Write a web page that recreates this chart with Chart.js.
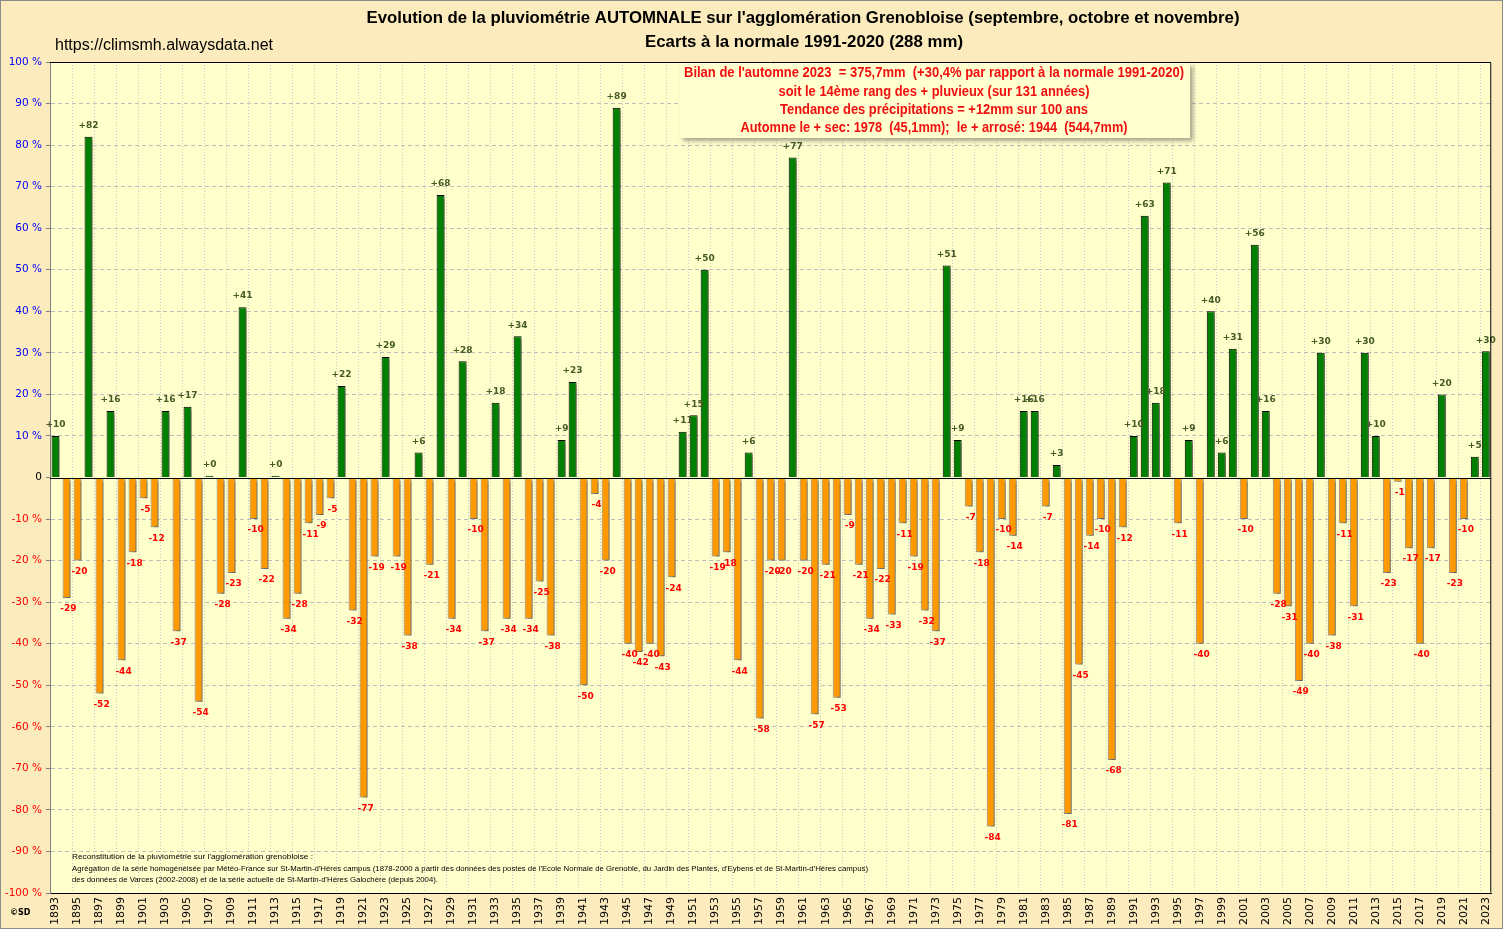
<!DOCTYPE html>
<html>
<head>
<meta charset="utf-8">
<script src="https://cdn.jsdelivr.net/npm/chart.js@4.4.0/dist/chart.umd.min.js"></script>
<style>
  body { margin: 0; background: #fcebbd; }
  canvas { display: block; }
</style>
</head>
<body>
<canvas id="pluvio" width="1503" height="929"></canvas>
<script>
// annees de la serie
var annees = [
  '1893','1894','1895','1896','1897','1898','1899','1900','1901','1902',
  '1903','1904','1905','1906','1907','1908','1909','1910','1911','1912',
  '1913','1914','1915','1916','1917','1918','1919','1920','1921','1922',
  '1923','1924','1925','1926','1927','1928','1929','1930','1931','1932',
  '1933','1934','1935','1936','1937','1938','1939','1940','1941','1942',
  '1943','1944','1945','1946','1947','1948','1949','1950','1951','1952',
  '1953','1954','1955','1956','1957','1958','1959','1960','1961','1962',
  '1963','1964','1965','1966','1967','1968','1969','1970','1971','1972',
  '1973','1974','1975','1976','1977','1978','1979','1980','1981','1982',
  '1983','1984','1985','1986','1987','1988','1989','1990','1991','1992',
  '1993','1994','1995','1996','1997','1998','1999','2000','2001','2002',
  '2003','2004','2005','2006','2007','2008','2009','2010','2011','2012',
  '2013','2014','2015','2016','2017','2018','2019','2020','2021','2022',
  '2023'
]

// ecarts a la normale 1991-2020 (%)
var ecarts = [
  10, -29, -20, 82, -52, 16, -44, -18, -5, -12,
  16, -37, 17, -54, 0.4, -28, -23, 41, -10, -22,
  0.4, -34, -28, -11, -9, -5, 22, -32, -77, -19,
  29, -19, -38, 6, -21, 68, -34, 28, -10, -37,
  18, -34, 34, -34, -25, -38, 9, 23, -50, -4,
  -20, 89, -40, -42, -40, -43, -24, 11, 15, 50,
  -19, -18, -44, 6, -58, -20, -20, 77, -20, -57,
  -21, -53, -9, -21, -34, -22, -33, -11, -19, -32,
  -37, 51, 9, -7, -18, -84, -10, -14, 16, 16,
  -7, 3, -81, -45, -14, -10, -68, -12, 10, 63,
  18, 71, -11, 9, -40, 40, 6, 31, -10, 56,
  16, -28, -31, -49, -40, 30, -38, -11, -31, 30,
  10, -23, -1, -17, -40, -17, 20, -23, -10, 5,
  30.4
]

var titre = [
  "Evolution de la pluviométrie AUTOMNALE sur l'agglomération Grenobloise (septembre, octobre et novembre)",
  'Ecarts à la normale 1991-2020 (288 mm)'
]
var bilan = [
  "Bilan de l'automne 2023  = 375,7mm  (+30,4% par rapport à la normale 1991-2020)",
  'soit le 14ème rang des + pluvieux (sur 131 années)',
  'Tendance des précipitations = +12mm sur 100 ans',
  'Automne le + sec: 1978  (45,1mm);  le + arrosé: 1944  (544,7mm)'
]
var notes = [
  "Reconstitution de la pluviométrie sur l'agglomération grenobloise :",
  "Agrégation de la série homogénéisée par Météo-France sur St-Martin-d'Hères campus (1878-2000 à partir des données des postes de l'Ecole Normale de Grenoble, du Jardin des Plantes, d'Eybens et de St-Martin-d'Hères campus)",
  "des données de Varces (2002-2008) et de la série actuelle de St-Martin-d'Hères Galochère (depuis 2004)."
]

// draws text squeezed/stretched to a given width
function texteAjuste(ctx, txt, x, y, largeur, align) {
  var w = ctx.measureText(txt).width
  ctx.save()
  ctx.translate(x, y)
  ctx.scale(largeur / w, 1)
  ctx.textAlign = align
  ctx.fillText(txt, 0, 0)
  ctx.restore()
}

var decor = {
  id: 'decor',
  beforeDraw: function(chart) {
    var ctx = chart.ctx, a = chart.chartArea
    ctx.save()
    ctx.fillStyle = '#fcebbd'
    ctx.fillRect(0, 0, chart.width, chart.height)
    ctx.fillStyle = '#ffffcc'
    ctx.fillRect(a.left, a.top, a.right - a.left, a.bottom - a.top)
    ctx.strokeStyle = '#8c8c8c'
    ctx.lineWidth = 1
    ctx.strokeRect(0.5, 0.5, chart.width - 1, chart.height - 1)
    ctx.restore()
  },
  beforeDatasetsDraw: function(chart) {
    var ctx = chart.ctx
    ctx.save()
    ctx.shadowColor = 'rgba(60,60,60,0.6)'
    ctx.shadowOffsetX = 3
    ctx.shadowOffsetY = 3
    ctx.shadowBlur = 3
  },
  afterDatasetsDraw: function(chart) {
    var ctx = chart.ctx, a = chart.chartArea
    ctx.restore()
    ctx.save()
    // ligne du zero
    var y0 = Math.round(chart.scales.y.getPixelForValue(0)) + 0.5
    ctx.strokeStyle = '#000'
    ctx.lineWidth = 1
    ctx.beginPath()
    ctx.moveTo(a.left, y0)
    ctx.lineTo(a.right, y0)
    ctx.stroke()
    // etiquettes des barres
    ctx.font = 'bold 9px "DejaVu Sans"'
    ctx.textAlign = 'center'
    ctx.textBaseline = 'middle'
    chart.getDatasetMeta(0).data.forEach(function(bar, i) {
      var v = ecarts[i]
      var r = Math.round(v)
      if (v >= 0) {
        ctx.fillStyle = '#465a26'
        ctx.fillText('+' + r, bar.x, bar.y - 11)
      } else {
        ctx.fillStyle = '#ff0000'
        ctx.fillText(String(r), bar.x + 2, bar.y + 11)
      }
    })
    ctx.restore()
  },
  afterDraw: function(chart) {
    var ctx = chart.ctx, a = chart.chartArea
    ctx.save()
    // cadre du graphique
    ctx.strokeStyle = '#000'
    ctx.lineWidth = 1
    ctx.beginPath()
    ctx.moveTo(a.left, a.top + 0.5)
    ctx.lineTo(a.right - 0.5, a.top + 0.5)
    ctx.lineTo(a.right - 0.5, a.bottom - 0.5)
    ctx.stroke()

    // titres
    ctx.fillStyle = '#000'
    ctx.textBaseline = 'middle'
    ctx.font = 'bold 17px "Liberation Sans"'
    texteAjuste(ctx, titre[0], 803, 18, 873, 'center')
    texteAjuste(ctx, titre[1], 804, 42, 318, 'center')
    ctx.font = '16px "Liberation Sans"'
    texteAjuste(ctx, 'https://climsmh.alwaysdata.net', 55, 46, 218, 'left')

    // encadre bilan
    ctx.save()
    ctx.shadowColor = 'rgba(80,80,80,0.5)'
    ctx.shadowOffsetX = 3
    ctx.shadowOffsetY = 3
    ctx.shadowBlur = 4
    ctx.fillStyle = '#ffffd0'
    ctx.fillRect(680, 63, 510, 75)
    ctx.restore()
    ctx.fillStyle = '#f01010'
    ctx.font = 'bold 14px "Liberation Sans"'
    var lignes = [[73, 500], [92, 311], [110, 308], [128, 387]]
    bilan.forEach(function(t, i) {
      texteAjuste(ctx, t, 934, lignes[i][0], lignes[i][1], 'center')
    })

    // notes de bas de graphique
    ctx.fillStyle = '#000'
    ctx.font = '8px "Liberation Sans"'
    var notesPos = [[857, 241], [869, 796], [880, 366]]
    notes.forEach(function(t, i) {
      texteAjuste(ctx, t, 72, notesPos[i][0], notesPos[i][1], 'left')
    })
    ctx.font = 'bold 8px "DejaVu Sans"'
    ctx.textAlign = 'left'
    ctx.fillText('\u00a9SD', 10, 913)
    ctx.restore()
  }
}

new Chart(document.querySelector('#pluvio'), {
  type: 'bar',
  data: {
    labels: annees,
    datasets: [{
      data: ecarts,
      backgroundColor: function(c) { return ecarts[c.dataIndex] >= 0 ? '#008000' : '#ff9900' },
      borderColor: function(c) { return ecarts[c.dataIndex] >= 0 ? '#000000' : '#8a8a8a' },
      borderWidth: 1,
      barPercentage: 0.72,
      categoryPercentage: 1
    }]
  },
  options: {
    responsive: false,
    devicePixelRatio: 1,
    animation: false,
    layout: { padding: { top: 62, right: 9, bottom: 0, left: 0 } },
    plugins: {
      legend: { display: false },
      tooltip: { enabled: false }
    },
    scales: {
      x: {
        afterFit: function(s) { s.height = 36 },
        grid: {
          offset: true,
          drawTicks: false,
          color: function(c) { return c.index % 2 === 0 ? '#c8c8c8' : 'transparent' }
        },
        border: { color: '#000', dash: [1, 2] },
        ticks: {
          autoSkip: false,
          maxRotation: 90,
          minRotation: 90,
          padding: 4,
          color: '#000',
          font: { family: 'DejaVu Sans', size: 11 },
          callback: function(v, i) { return i % 2 === 0 ? annees[i] : '' }
        }
      },
      y: {
        min: -100,
        max: 100,
        afterFit: function(s) { s.width = 50 },
        grid: {
          color: function(c) { return c.tick && c.tick.value === 0 ? 'transparent' : '#bdbdbd' },
          tickColor: '#808080',
          tickLength: 4
        },
        border: { color: '#808080', dash: [4, 3] },
        ticks: {
          stepSize: 10,
          padding: 4,
          font: { family: 'DejaVu Sans', size: 10.5 },
          color: function(c) {
            var v = c.tick.value
            return v > 0 ? '#0000ff' : (v < 0 ? '#ff0000' : '#000000')
          },
          callback: function(v) { return v === 0 ? '0' : v + ' %' }
        }
      }
    }
  },
  plugins: [decor]
})
</script>
</body>
</html>
